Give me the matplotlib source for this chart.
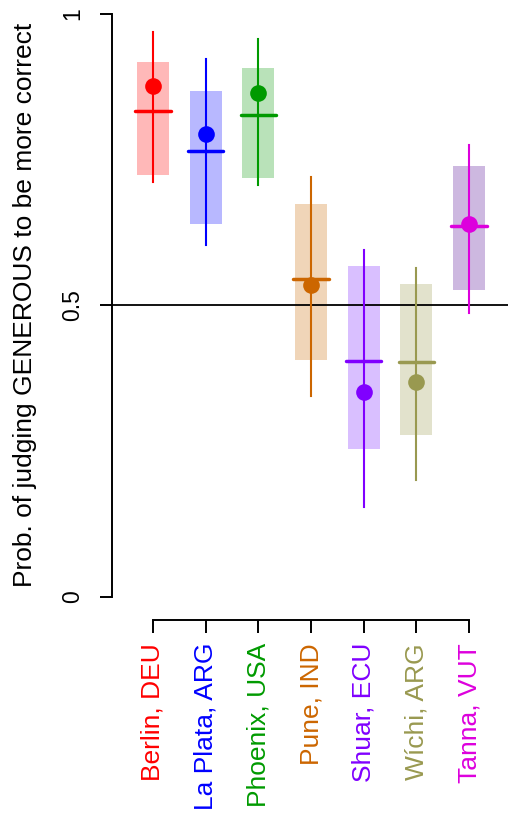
import numpy as np
import matplotlib
matplotlib.use("Agg")
import matplotlib.pyplot as plt
from matplotlib.patches import Rectangle

plt.rcParams["font.family"] = ["Liberation Sans", "DejaVu Sans"]

sites = ["Berlin, DEU", "La Plata, ARG", "Phoenix, USA", "Pune, IND",
         "Shuar, ECU", "Wíchi, ARG", "Tanna, VUT"]
colors = ["#FF0000", "#0000FF", "#009A00", "#CC6600",
          "#8000FF", "#999950", "#DD00DD"]
box_colors = ["#FFB8B8", "#B8B8FF", "#B9E2B9", "#F0D5B8",
              "#D9BFFF", "#E2E2CC", "#CDB8E0"]

# point estimate, horizontal bar, box (lo, hi), whisker (lo, hi)
points = [0.877, 0.795, 0.864, 0.535, 0.352, 0.368, 0.640]
medians = [0.833, 0.765, 0.826, 0.546, 0.404, 0.403, 0.636]
box_lo = [0.723, 0.640, 0.719, 0.407, 0.254, 0.277, 0.527]
box_hi = [0.918, 0.868, 0.907, 0.674, 0.568, 0.537, 0.739]
wh_lo = [0.711, 0.604, 0.706, 0.344, 0.154, 0.200, 0.487]
wh_hi = [0.969, 0.923, 0.957, 0.720, 0.595, 0.564, 0.775]


def main():
    W, H = 508, 813
    fig = plt.figure(figsize=(W / 100, H / 100), dpi=100)
    ax = fig.add_axes([112 / W, 1 - 620 / H, 1 - 112 / W, 620 / H])

    x = np.arange(1, len(sites) + 1)
    box_w = 0.61
    seg_w = 0.67

    ax.axhline(0.5, color="black", lw=1.3, zorder=2)
    for i in range(len(sites)):
        ax.add_patch(Rectangle((x[i] - box_w / 2, box_lo[i]), box_w,
                               box_hi[i] - box_lo[i], facecolor=box_colors[i],
                               edgecolor="none", zorder=1))
        ax.plot([x[i], x[i]], [wh_lo[i], wh_hi[i]], color=colors[i],
                lw=1.5, zorder=3)
        ax.plot([x[i] - seg_w / 2, x[i] + seg_w / 2], [medians[i], medians[i]],
                color=colors[i], lw=2.5, solid_capstyle="round", zorder=3)
        ax.plot(x[i], points[i], "o", color=colors[i], ms=12, mec="none",
                zorder=4)

    ax.set_xlim(0.2216, 7.740)
    ax.set_ylim(-0.0395, 1.024)

    for s in ["top", "right"]:
        ax.spines[s].set_visible(False)
    ax.spines["left"].set_bounds(0, 1)
    ax.spines["bottom"].set_bounds(1, 7)
    ax.spines["left"].set_linewidth(1.4)
    ax.spines["bottom"].set_linewidth(1.4)

    ax.set_yticks([0, 0.5, 1])
    ax.set_yticklabels(["0", "0.5", "1"], rotation=90, va="center")
    ax.tick_params(axis="y", length=9, width=1.4, pad=11, labelsize=16.5)
    ax.set_xticks(x)
    ax.set_xticklabels(sites, rotation=90, va="top", ha="center")
    ax.tick_params(axis="x", length=9, width=1.4, pad=7.5, labelsize=19)
    for lab, c in zip(ax.get_xticklabels(), colors):
        lab.set_color(c)

    fig.text(25 / W, 1 - 305 / H, "Prob. of judging GENEROUS to be more correct",
             rotation=90, ha="center", va="center", fontsize=19)

    fig.savefig("out.png", dpi=100)


if __name__ == "__main__":
    main()
